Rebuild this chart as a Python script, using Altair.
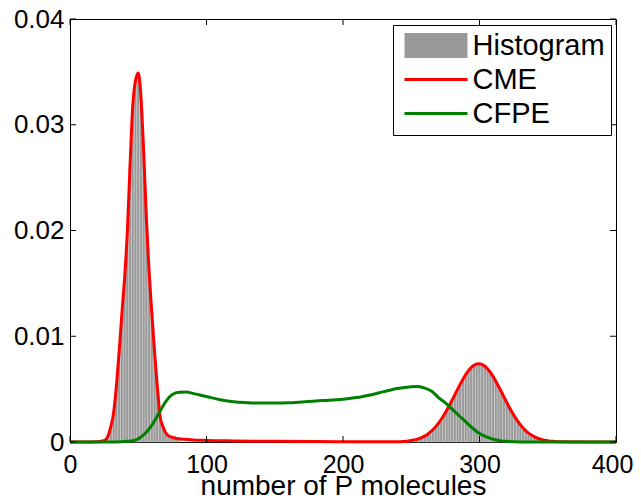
import altair as alt
import pandas as pd

# ---- tick values ----
x_ticks = [0, 100, 200, 300, 400]
y_ticks = [0, 0.01, 0.02, 0.03, 0.04]

# ---- series ----
series_names = ["Histogram", "CME", "CFPE"]
series_colors = ["#999999", "#ff0000", "#008000"]

# left mode (bins of width 2, centres)
left_x = [20, 22, 24, 26, 28, 30, 32, 34, 36, 38, 40, 42, 44, 46, 48, 50,
          52, 54, 56, 58, 60, 62, 64, 66, 68, 70, 72, 74, 76, 78, 80]
left_density = [0.00002, 0.00004, 0.0001, 0.0002, 0.0006, 0.0015, 0.0028, 0.0053,
                 0.0085, 0.0121, 0.0155, 0.0198, 0.0262, 0.0318, 0.0342, 0.0349,
                 0.0326, 0.0273, 0.0210, 0.0160, 0.0121, 0.0084, 0.0052, 0.0024,
                 0.0015, 0.0009, 0.0006, 0.00048, 0.0004, 0.00034, 0.0003]

# flat tail between the modes (CME only)
mid_x = [84, 90, 100, 120, 150, 180, 210, 230]
mid_density = [0.00026, 0.0002, 0.00015, 0.0001, 0.00006, 0.00004, 0.00003, 0.00002]

# right mode (bins of width 2, centres)
right_x = [240, 242, 244, 246, 248, 250, 252, 254, 256, 258, 260, 262, 264, 266,
           268, 270, 272, 274, 276, 278, 280, 282, 284, 286, 288, 290, 292, 294,
           296, 298, 300, 302, 304, 306, 308, 310, 312, 314, 316, 318, 320, 322,
           324, 326, 328, 330, 332, 334, 336, 338, 340, 342, 344, 346, 348, 350,
           352, 354, 356, 358, 360]
right_density = [0.00002, 0.00003, 0.00005, 0.00007, 0.0001, 0.00014, 0.00019, 0.00025,
                 0.00034, 0.00044, 0.00058, 0.00074, 0.00095, 0.00118, 0.00146, 0.00179,
                 0.00215, 0.00256, 0.0030, 0.00348, 0.00398, 0.00449, 0.0050, 0.0055,
                 0.00596, 0.00639, 0.00675, 0.00705, 0.00725, 0.00737, 0.0074, 0.00732,
                 0.00716, 0.0069, 0.00658, 0.00618, 0.00573, 0.00525, 0.00475, 0.00423,
                 0.00373, 0.00324, 0.00278, 0.00235, 0.00197, 0.00162, 0.00132, 0.00106,
                 0.00084, 0.00066, 0.00051, 0.00039, 0.00029, 0.00022, 0.00016, 0.00012,
                 0.00008, 0.00006, 0.00004, 0.00003, 0.00002]

# CFPE curve
cfpe_x = [0, 30, 40, 45, 50, 55, 60, 65, 70, 75, 80, 85, 90, 95, 100, 110, 120, 130,
          140, 150, 160, 170, 180, 190, 200, 210, 220, 230, 240, 250, 255, 260, 265,
          270, 275, 280, 285, 290, 295, 300, 305, 310, 315, 320, 330, 340, 400]
cfpe_density = [0, 0, 0.00005, 0.0001, 0.0003, 0.0008, 0.0016, 0.0027, 0.0038, 0.0045,
                0.0047, 0.00472, 0.0046, 0.00445, 0.0043, 0.0040, 0.0038, 0.00372,
                0.00368, 0.00368, 0.0037, 0.00378, 0.00388, 0.00395, 0.00405, 0.0042,
                0.00445, 0.00476, 0.00505, 0.00522, 0.00525, 0.0051, 0.0048, 0.0042,
                0.0037, 0.0031, 0.0025, 0.0019, 0.0013, 0.0008, 0.00048, 0.00026,
                0.00013, 0.00006, 0.00001, 0, 0]

hist_df = pd.DataFrame({"x": left_x + right_x, "density": left_density + right_density})
cme_df = pd.DataFrame({
    "x": [0, 10] + left_x + mid_x + right_x + [380, 400],
    "density": [0, 0] + left_density + mid_density + right_density + [0, 0],
})
cfpe_df = pd.DataFrame({"x": cfpe_x, "density": cfpe_density})
legend_df = pd.DataFrame({"series": series_names})
xt_df = pd.DataFrame({"v": x_ticks})
yt_df = pd.DataFrame({"v": y_ticks})

FONT = "Liberation Sans"
W, H = 546, 423

xscale = alt.Scale(domain=[0, 400], nice=False, zero=False)
yscale = alt.Scale(domain=[0, 0.04], nice=False)

x_axis = alt.Axis(values=x_ticks, ticks=False, grid=False, labelFontSize=25,
                  labelFont=FONT, labelColor="black", labelPadding=10,
                  labelFlush=False, labelOverlap=False,
                  labelOffset=alt.ExprRef("datum.value == 400 ? -4 : 0"),
                  domainColor="black", title="number of P molecules",
                  titleFont=FONT, titleFontSize=28, titleFontWeight="normal",
                  titleColor="black", titleY=52, titleBaseline="alphabetic")
y_axis = alt.Axis(values=y_ticks, ticks=False, grid=False, labelFontSize=26,
                  labelFont=FONT, labelColor="black", labelPadding=6,
                  labelFlush=False, labelOverlap=False, domainColor="black",
                  labelExpr="datum.value == 0 ? '0' : format(datum.value, '.2f')",
                  title=None)

bars = alt.Chart(hist_df).transform_calculate(
    x0="datum.x - 1", x1="datum.x + 1"
).mark_bar(color="#999999", stroke="#dedede", strokeWidth=0.4).encode(
    x=alt.X("x0:Q", scale=xscale, axis=x_axis),
    x2="x1:Q",
    y=alt.Y("density:Q", scale=yscale, axis=y_axis),
    y2=alt.datum(0),
)

cme = alt.Chart(cme_df).mark_line(color="#ff0000", strokeWidth=3,
                                  interpolate="monotone").encode(
    x=alt.X("x:Q", scale=xscale), y=alt.Y("density:Q", scale=yscale))

cfpe = alt.Chart(cfpe_df).mark_line(color="#008000", strokeWidth=3,
                                    interpolate="monotone").encode(
    x=alt.X("x:Q", scale=xscale), y=alt.Y("density:Q", scale=yscale))

tick_len = 6
bottom_ticks = alt.Chart(xt_df).mark_rule(color="black", strokeWidth=1).encode(
    x=alt.X("v:Q", scale=xscale), y=alt.value(H), y2=alt.value(H - tick_len))
top_ticks = alt.Chart(xt_df).mark_rule(color="black", strokeWidth=1).encode(
    x=alt.X("v:Q", scale=xscale), y=alt.value(0), y2=alt.value(tick_len))
left_ticks = alt.Chart(yt_df).mark_rule(color="black", strokeWidth=1).encode(
    y=alt.Y("v:Q", scale=yscale), x=alt.value(0), x2=alt.value(tick_len))
right_ticks = alt.Chart(yt_df).mark_rule(color="black", strokeWidth=1).encode(
    y=alt.Y("v:Q", scale=yscale), x=alt.value(W), x2=alt.value(W - tick_len))

rect_path = "M-2.52,-1H2.52V1H-2.52Z"
line_path = "M-2.52,-0.12H2.52V0.12H-2.52Z"

leg = alt.Legend(title=None, orient="none", legendX=323, legendY=6,
                 symbolOpacity=1)
legend_layer = alt.Chart(legend_df).mark_point(filled=True, opacity=0, size=625).encode(
    color=alt.Color("series:N", scale=alt.Scale(domain=series_names, range=series_colors),
                    legend=leg),
    shape=alt.Shape("series:N", scale=alt.Scale(domain=series_names,
                                                range=[rect_path, line_path, line_path]),
                    legend=leg),
)

chart = alt.layer(
    bars, cme, cfpe, bottom_ticks, top_ticks, left_ticks, right_ticks, legend_layer
).properties(
    width=W, height=H,
    autosize=alt.AutoSizeParams(type="none"),
    padding={"left": 62, "top": 11, "right": 17, "bottom": 53},
).configure_view(
    stroke="black", strokeWidth=1
).configure_axis(
    domainWidth=1
).configure_legend(
    labelFont=FONT, labelFontSize=29, labelColor="black", padding=6,
    rowPadding=4, symbolOffset=22.5, labelOffset=22, strokeColor="black",
    fillColor="white", symbolStrokeWidth=0, labelLimit=400, symbolSize=625,
    labelBaseline="middle", cornerRadius=0
)

chart.save("out.html", embed_options={"renderer": "svg", "actions": False})
